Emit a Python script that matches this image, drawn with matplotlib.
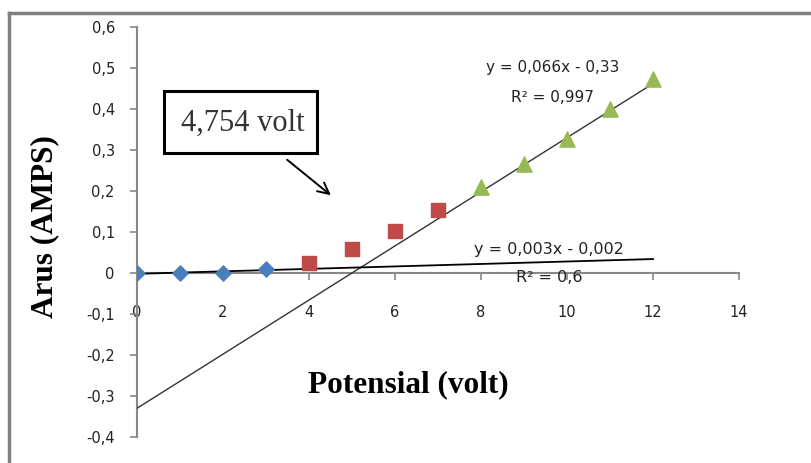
import matplotlib.pyplot as plt
from matplotlib.patches import Rectangle
from matplotlib.lines import Line2D

# ==========================================================
# DATA
# ==========================================================

x_biru = [0, 1, 2, 3]
y_biru = [0.0, 0.0, 0.001, 0.009]

x_merah = [4, 5, 6, 7]
y_merah = [0.025, 0.058, 0.102, 0.154]

x_hijau = [8, 9, 10, 11, 12]
y_hijau = [0.21, 0.266, 0.328, 0.40, 0.472]

# trendline coefficients (slope, intercept)
fit_atas = (0.066, -0.33)
fit_bawah = (0.003, -0.002)
x_fit = [0, 12]

x_ticks = [0, 2, 4, 6, 8, 10, 12, 14]
y_ticks = [-0.4, -0.3, -0.2, -0.1, 0, 0.1, 0.2, 0.3, 0.4, 0.5, 0.6]


def fmt(v):
    if abs(v) < 1e-9:
        return "0"
    return f"{v:.1f}".replace(".", ",")


# ==========================================================
# PLOT
# ==========================================================

fig = plt.figure(figsize=(8.12, 4.63), dpi=100)
ax = fig.add_axes([0.1687, 0.0562, 0.7414, 0.8855])

ax.set_xlim(0, 14)
ax.set_ylim(-0.4, 0.6)

ax.plot(x_fit, [fit_atas[0] * x + fit_atas[1] for x in x_fit],
        color="#333333", lw=1.0, zorder=3)
ax.plot(x_fit, [fit_bawah[0] * x + fit_bawah[1] for x in x_fit],
        color="black", lw=1.3, zorder=3)

ax.scatter(x_biru, y_biru, marker="D", s=60, color="#4a7ebb", zorder=4)
ax.scatter(x_merah, y_merah, marker="s", s=110, color="#be4b48", zorder=4)
ax.scatter(x_hijau, y_hijau, marker="^", s=120, color="#98b954", zorder=4)

# axes styling
for s in ["top", "right"]:
    ax.spines[s].set_visible(False)
ax.spines["left"].set_position(("data", 0))
ax.spines["bottom"].set_position(("data", 0))
for s in ["left", "bottom"]:
    ax.spines[s].set_color("#888888")
    ax.spines[s].set_linewidth(1.5)

ax.set_xticks(x_ticks)
ax.set_xticklabels([str(t) for t in x_ticks])
ax.set_yticks(y_ticks)
ax.set_yticklabels([fmt(t) for t in y_ticks])
ax.tick_params(axis="both", colors="#888888", length=5, width=1.2,
               labelcolor="#222222", labelsize=10.5)
ax.tick_params(axis="y", pad=11)
ax.tick_params(axis="x", pad=18)

# trendline equations
ax.text(9.67, 0.50, "y = 0,066x - 0,33", fontsize=11, ha="center",
        va="center", color="#222222")
ax.text(9.67, 0.429, "R² = 0,997", fontsize=11, ha="center",
        va="center", color="#222222")
ax.text(9.58, 0.0585, "y = 0,003x - 0,002", fontsize=11.5, ha="center",
        va="center", color="#222222")
ax.text(9.58, -0.01, "R² = 0,6", fontsize=11.5, ha="center",
        va="center", color="#222222")

# annotation box
fig.patches.append(Rectangle((164 / 812, 1 - 153 / 463), 153 / 812, 62 / 463,
                             transform=fig.transFigure, fill=False,
                             edgecolor="black", lw=2.2))
fig.text(243 / 812, 1 - 123 / 463, "4,754 volt", family="Liberation Serif",
         fontsize=22, ha="center", va="center", color="#333333")
ax.annotate("", xy=(333 / 812, 1 - 197 / 463), xytext=(285 / 812, 1 - 158 / 463),
            xycoords="figure fraction", textcoords="figure fraction",
            arrowprops=dict(arrowstyle="->", color="black", lw=1.4,
                            mutation_scale=20))

# axis titles
fig.text(45 / 812, 1 - 227 / 463, "Arus (AMPS)", family="Liberation Serif",
         fontsize=22.5, fontweight="bold", rotation=90, ha="center", va="center")
fig.text(408 / 812, 1 - 385 / 463, "Potensial (volt)", family="Liberation Serif",
         fontsize=22.5, fontweight="bold", ha="center", va="center")

# outer frame (top and left only)
fig.lines.append(Line2D([9 / 812, 1], [1 - 13 / 463, 1 - 13 / 463],
                        transform=fig.transFigure, color="#808080", lw=2.5))
fig.lines.append(Line2D([9 / 812, 9 / 812], [0, 1 - 13 / 463],
                        transform=fig.transFigure, color="#808080", lw=2.5))

plt.savefig("out.png", dpi=100)
